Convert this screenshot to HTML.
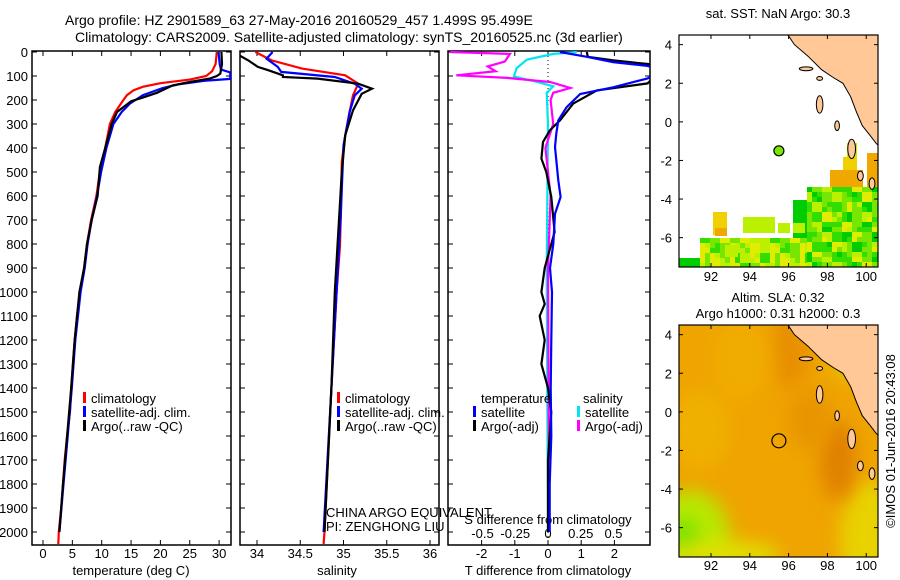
<!DOCTYPE html>
<html><head><meta charset="utf-8">
<style>
html,body{margin:0;padding:0;background:#fff;}
svg{display:block;font-family:"Liberation Sans",sans-serif;}
text{fill:#000;}
</style></head>
<body>
<svg id="fig" width="900" height="580" viewBox="0 0 900 580" xmlns="http://www.w3.org/2000/svg">
<defs>
<clipPath id="c1"><rect x="32" y="51" width="199" height="494"/></clipPath>
<clipPath id="c2"><rect x="240" y="51" width="199" height="494"/></clipPath>
<clipPath id="c3"><rect x="448" y="51" width="202" height="494"/></clipPath>
<clipPath id="m1"><rect x="679" y="35" width="199" height="232"/></clipPath>
<clipPath id="m2"><rect x="679" y="325" width="199" height="232"/></clipPath>
<filter id="blur" x="-50%" y="-50%" width="200%" height="200%"><feGaussianBlur stdDeviation="9"/></filter>
</defs>
<text x="65" y="25" font-size="14">Argo profile: HZ 2901589_63 27-May-2016 20160529_457 1.499S 95.499E</text>
<text x="75" y="42" font-size="14">Climatology: CARS2009. Satellite-adjusted climatology: synTS_20160525.nc (3d earlier)</text>
<g id="g1"></g>
<g id="g2"></g>
<g id="g3"></g>
<g id="gm1"></g>
<g id="gm2"></g>
<text transform="translate(895,441) rotate(-90)" text-anchor="middle" font-size="13">©IMOS 01-Jun-2016 20:43:08</text>
</svg>
<script>
// ---- data ----
const depthTicks=[0,100,200,300,400,500,600,700,800,900,1000,1100,1200,1300,1400,1500,1600,1700,1800,1900,2000];
const tempTicks=[0,5,10,15,20,25,30];
const salTicks=[34,34.5,35,35.5,36];
const salTickLabels=["34","34.5","35","35.5","36"];
const dtTicks=[-2,-1,0,1,2];
const dsTicks=[-0.5,-0.25,0,0.25,0.5];
const dsTickLabels=["-0.5","-0.25","0","0.25","0.5"];

const climTDepth=[0,50,80,100,115,130,145,160,180,200,250,300,400,500,600,700,800,900,1000,1100,1200,1300,1400,1500,1600,1700,1800,1900,2000,2050];
const climT=[29.6,29.4,28.8,27.8,25,20,17,15.4,14.3,13.7,12.3,11.4,10.6,9.7,9.1,8.2,7.5,7.0,6.3,5.8,5.4,5.1,4.8,4.6,4.1,3.7,3.4,3.1,2.7,2.6];
const satTDepth=[0,50,73,85,112,120,135,150,180,215,250,300,400,500,600,700,800,900,1000,1200,1400,1600,1800,2000];
const satT=[29.9,30.1,30.3,31.9,31.9,27.5,23,20.4,17,14.8,13.4,12,10.8,9.9,9.2,8.3,7.6,7.1,6.4,5.5,4.9,4.2,3.5,2.8];
const argoTDepth=[0,50,90,100,110,125,140,170,190,205,250,300,400,480,600,700,800,900,1000,1200,1400,1600,1800,2000];
const argoT=[30.4,30.5,30.2,29.6,28.5,25,22,19.4,17,15,12.6,11.7,10.6,9.7,9.3,8.3,7.5,7.0,6.2,5.4,4.8,4.1,3.4,2.8];

const climSDepth=[0,35,69,97,132,181,250,347,458,667,806,1000,1400,2000,2050];
const climS=[33.98,34.17,34.52,35.02,35.17,35.11,35.07,35.02,34.98,34.97,34.96,34.92,34.86,34.78,34.77];
const satSDepth=[0,28,62,83,104,132,153,181,250,389,667,1000,1400,2000];
const satS=[34.18,34.11,34.24,34.28,34.9,35.13,35.21,35.13,35.07,35.0,34.97,34.92,34.86,34.77];
const argoSDepth=[0,15,35,62,76,97,104,111,132,153,174,243,347,500,1000,1400,2000];
const argoS=[33.78,33.8,33.9,34.01,34.13,34.3,34.3,34.7,35.17,35.33,35.21,35.11,35.02,34.98,34.9,34.86,34.78];

const satDTDepth=[0,20,42,58,80,110,147,175,230,285,340,396,535,604,674,800,900,1000,1200,1400,1600,1800,2000];
const satDT=[0.36,1.17,1.96,3,3.5,3,1.96,0.97,0.56,0.31,0.25,0.21,0.31,0.38,0.21,0.16,0.06,0.12,0.1,0.08,0.1,0.05,0.05];
const argoDTDepth=[0,20,35,50,62,131,160,215,285,326,375,444,500,604,750,900,1000,1050,1100,1200,1300,1400,1500,1700,2000];
const argoDT=[1.17,1.2,1.96,3,3.5,3,1.47,0.76,0.36,0.06,-0.15,-0.2,-0.05,0.1,0.2,-0.1,-0.2,-0.1,-0.25,-0.1,-0.2,0,0.1,0,0];
const argoDSDepth=[0,8,40,60,80,97,108,125,150,170,200,300,400,600,900,2000];
const argoDS=[-0.75,-0.29,-0.33,-0.46,-0.4,-0.7,-0.31,0.015,0.17,0.04,0.02,0.04,-0.02,0.02,0,0.01];
const satDSDepth=[0,8,32,67,102,115,122,143,170,300,900,2000];
const satDS=[0.22,0.04,-0.16,-0.24,-0.26,-0.16,-0.1,0.04,-0.01,0,-0.01,0];

const lonTicks=[92,94,96,98,100];
const latTicks=[4,2,0,-2,-4,-6];
const argoLon=95.5, argoLat=-1.5;

// ---- helpers ----
const NS="http://www.w3.org/2000/svg";
function mk(parent,tag,attrs){const e=document.createElementNS(NS,tag);for(const k in attrs)e.setAttribute(k,attrs[k]);parent.appendChild(e);return e;}
const yD=d=>52+d*0.24;
const xT=t=>43+t*5.87;
const xS=s=>257+(s-34)*86.5;
const xDT=t=>548+t*33.2;
const xDS=s=>548+s*131;
const xLon=l=>711+(l-92)*19.4;
const yLat1=l=>35+(4.5-l)*19.3;
const yLat2=l=>325+(4.5-l)*19.3;

function frame(g,x,w,name){
  const r=mk(g,'rect',{x:x,y:51,width:w,height:494,fill:'none',stroke:'#000','stroke-width':1.5});
  
  
}
function depthTickMarks(g,x0,x1,labels){
  depthTicks.forEach(d=>{
    const y=yD(d);
    mk(g,'line',{x1:x0,y1:y,x2:x0+5,y2:y,stroke:'#000'});
    mk(g,'line',{x1:x1,y1:y,x2:x1-5,y2:y,stroke:'#000'});
    if(labels){const t=mk(g,'text',{x:x0-4,y:y+5,'text-anchor':'end','font-size':13});t.textContent=d;
      
      }
  });
}
function xTicks(g,vals,labs,fx,yb,yt,ly){
  vals.forEach((v,i)=>{const x=fx(v);
    mk(g,'line',{x1:x,y1:yb,x2:x,y2:yb-5,stroke:'#000'});
    mk(g,'line',{x1:x,y1:yt,x2:x,y2:yt+5,stroke:'#000'});
    const t=mk(g,'text',{x:x,y:ly,'text-anchor':'middle','font-size':13});t.textContent=labs[i];
    
    
  });
}
function series(g,clip,depths,vals,fx,color,name){
  const pts=depths.map((d,i)=>fx(vals[i]).toFixed(1)+','+yD(d).toFixed(1)).join(' ');
  const p=mk(g,'polyline',{points:pts,fill:'none',stroke:color,'stroke-width':2.2,'clip-path':'url(#'+clip+')','stroke-linejoin':'miter'});
  
  
}
function legendItem(g,x,y,color,label,name){
  mk(g,'rect',{x:x,y:y-11,width:3,height:11,fill:color});
  const t=mk(g,'text',{x:x+8,y:y,'font-size':13});t.textContent=label;
  
  
}
function label(g,x,y,txt,name,anchor){
  const t=mk(g,'text',{x:x,y:y,'font-size':13,'text-anchor':anchor||'middle'});t.textContent=txt;
  
  
  return t;
}

// ---- panel 1 ----
const g1=document.getElementById('g1');
frame(g1,32,199,'temperature-axes');
depthTickMarks(g1,32,231,true);
xTicks(g1,tempTicks,tempTicks.map(String),xT,545,51,558);
series(g1,'c1',climTDepth,climT,xT,'#ff0000','temp-climatology-line');
series(g1,'c1',satTDepth,satT,xT,'#0000ff','temp-satellite-line');
series(g1,'c1',argoTDepth,argoT,xT,'#000000','temp-argo-line');
label(g1,131,575,'temperature (deg C)','x-axis-title-temperature');
legendItem(g1,83,403,'#ff0000','climatology','legend-climatology');
legendItem(g1,83,417,'#0000ff','satellite-adj. clim.','legend-satellite');
legendItem(g1,83,431,'#000000','Argo(..raw -QC)','legend-argo');

// ---- panel 2 ----
const g2=document.getElementById('g2');
frame(g2,240,199,'salinity-axes');
depthTickMarks(g2,240,439,false);
xTicks(g2,salTicks,salTickLabels,xS,545,51,558);
series(g2,'c2',climSDepth,climS,xS,'#ff0000','sal-climatology-line');
series(g2,'c2',satSDepth,satS,xS,'#0000ff','sal-satellite-line');
series(g2,'c2',argoSDepth,argoS,xS,'#000000','sal-argo-line');
label(g2,337,575,'salinity','x-axis-title-salinity');
legendItem(g2,337,403,'#ff0000','climatology','legend-climatology-2');
legendItem(g2,337,417,'#0000ff','satellite-adj. clim.','legend-satellite-2');
legendItem(g2,337,431,'#000000','Argo(..raw -QC)','legend-argo-2');
label(g2,326,517,'CHINA ARGO EQUIVALENT','float-owner-text','start');
label(g2,326,531,'PI: ZENGHONG LIU','pi-name-text','start');

// ---- panel 3 ----
const g3=document.getElementById('g3');
frame(g3,448,202,'difference-axes');
depthTickMarks(g3,448,650,false);
xTicks(g3,dtTicks,dtTicks.map(String),xDT,545,51,558);
dsTicks.forEach((v,i)=>{label(g3,xDS(v),538,dsTickLabels[i],'s-diff-tick-label');});
label(g3,548,524,'S difference from climatology','s-diff-axis-title');
label(g3,548,575,'T difference from climatology','t-diff-axis-title');
mk(g3,'line',{x1:548,y1:52,x2:548,y2:544,stroke:'#000','stroke-dasharray':'1,3'});
series(g3,'c3',satDSDepth,satDS,xDS,'#00e5ee','s-diff-satellite-line');
series(g3,'c3',argoDSDepth,argoDS,xDS,'#ff00ff','s-diff-argo-line');
series(g3,'c3',argoDTDepth,argoDT,xDT,'#000000','t-diff-argo-line');
series(g3,'c3',satDTDepth,satDT,xDT,'#0000ff','t-diff-satellite-line');
label(g3,481,403,'temperature','legend-temperature-heading','start');
label(g3,583,403,'salinity','legend-salinity-heading','start');
legendItem(g3,473,417,'#0000ff','satellite','legend-t-satellite');
legendItem(g3,473,431,'#000000','Argo(-adj)','legend-t-argo');
legendItem(g3,577,417,'#00e5ee','satellite','legend-s-satellite');
legendItem(g3,577,431,'#ff00ff','Argo(-adj)','legend-s-argo');

// ---- maps ----
const landPts=[[95.9,4.6],[96.3,4.0],[97.0,3.4],[97.7,2.7],[98.3,2.3],[98.8,2.0],[99.2,1.3],[99.5,0.5],[99.8,-0.2],[100.2,-0.7],[100.5,-1.1],[100.7,-1.3],[100.7,4.6]];
function drawLand(g,yL,clip){
  const pts=landPts.map(p=>xLon(p[0]).toFixed(1)+','+yL(p[1]).toFixed(1)).join(' ');
  const p=mk(g,'polygon',{points:pts,fill:'#ffc896',stroke:'#000','stroke-width':1,'clip-path':'url(#'+clip+')'});
  
  
  const isl=[[96.9,2.75,0.35,0.1],[97.6,2.25,0.15,0.1],[97.6,0.9,0.17,0.45],[98.5,-0.2,0.12,0.25],[99.25,-1.4,0.2,0.5],[99.7,-2.8,0.15,0.25],[100.3,-3.2,0.15,0.3]];
  isl.forEach(s=>{const e=mk(g,'ellipse',{cx:xLon(s[0]),cy:yL(s[1]),rx:s[2]*19.4,ry:s[3]*19.3,fill:'#ffc896',stroke:'#000','stroke-width':1,'clip-path':'url(#'+clip+')'});
    
    });
}
function mapAxes(g,top,yL,ylab){
  const r=mk(g,'rect',{x:679,y:top,width:199,height:232,fill:'none',stroke:'#000','stroke-width':1.2});
  
  
  lonTicks.forEach(l=>{const x=xLon(l);
    mk(g,'line',{x1:x,y1:top,x2:x,y2:top+4,stroke:'#000'});
    mk(g,'line',{x1:x,y1:top+232,x2:x,y2:top+228,stroke:'#000'});
    label(g,x,ylab,String(l),'lon-tick-label');});
  latTicks.forEach(l=>{const y=yL(l);
    mk(g,'line',{x1:679,y1:y,x2:683,y2:y,stroke:'#000'});
    mk(g,'line',{x1:878,y1:y,x2:874,y2:y,stroke:'#000'});
    label(g,672,y+5,String(l),'lat-tick-label','end');});
}
const sstPal=['#00cc00','#33dd00','#77e600','#bbf000','#e0ec00','#f0d000','#f0a800'];
const sstBlocks=[[830,170,33,17,6],[843,157,14,13,5],[867,153,11,34,6],[847,143,10,14,3],[807,187,71,80,-1],[793,200,14,67,0],[713,212,14,23,5],[715,228,12,8,6],[743,217,32,16,3],[778,223,12,10,3],[793,223,12,10,3],[700,238,107,29,-2],[679,258,21,9,0],[725,245,13,12,3]];
const gm1=document.getElementById('gm1');
label(gm1,778,18,'sat. SST: NaN Argo: 30.3','sst-map-title');
sstBlocks.forEach(b=>{
  const [x,y,w,h,c]=b;
  if(c>=0){const r=mk(gm1,'rect',{x:x,y:y,width:w,height:h,fill:sstPal[c]});
    
    return;}
  for(let i=0;i<w;i+=5)for(let j=0;j<h;j+=5){
    const a=Math.floor((x+i)/10), bb=Math.floor((y+j)/10);
    const k=((a*5+bb*3+((i*j)%7<2?1:0))%7);
    const idx=c===-1?[0,1,2,3,4,2,1][k]:[1,2,3,4,3,2,4][k];
    const r=mk(gm1,'rect',{x:x+i,y:y+j,width:Math.min(5,w-i),height:Math.min(5,h-j),fill:sstPal[idx],'clip-path':'url(#m1)'});
    
    
  }
});
drawLand(gm1,yLat1,'m1');
mapAxes(gm1,35,yLat1,281);
const mk1=mk(gm1,'circle',{cx:xLon(argoLon),cy:yLat1(argoLat),r:5,fill:'#77e600',stroke:'#000','stroke-width':1.2});



const gm2=document.getElementById('gm2');
label(gm2,778,302,'Altim. SLA: 0.32','sla-map-title');
label(gm2,778,318,'Argo h1000: 0.31 h2000: 0.3','argo-height-text');
const bg=mk(gm2,'rect',{x:679,y:325,width:199,height:232,fill:'#efa400'});


const blobs=[[690,540,40,50,'#b8e800'],[684,548,14,30,'#70e000'],[720,555,60,14,'#e0e000'],[870,540,30,60,'#e8d200'],[790,350,20,40,'#e89000'],[838,460,18,40,'#e08000'],[700,430,30,40,'#f0b000'],[860,350,30,30,'#e8d000'],[740,360,30,40,'#f0ac00'],[810,420,22,30,'#e89400']];
blobs.forEach(b=>{const e=mk(gm2,'ellipse',{cx:b[0],cy:b[1],rx:b[2],ry:b[3],fill:b[4],filter:'url(#blur)','clip-path':'url(#m2)'});
  
  });
const gtr=mk(gm2,'rect',{x:835,y:325,width:43,height:20,fill:'#88ee00','clip-path':'url(#m2)'});


drawLand(gm2,yLat2,'m2');
mapAxes(gm2,325,yLat2,570);
const mk2=mk(gm2,'circle',{cx:xLon(argoLon),cy:yLat2(argoLat),r:7,fill:'none',stroke:'#000','stroke-width':1.2});


</script>
</body></html>
